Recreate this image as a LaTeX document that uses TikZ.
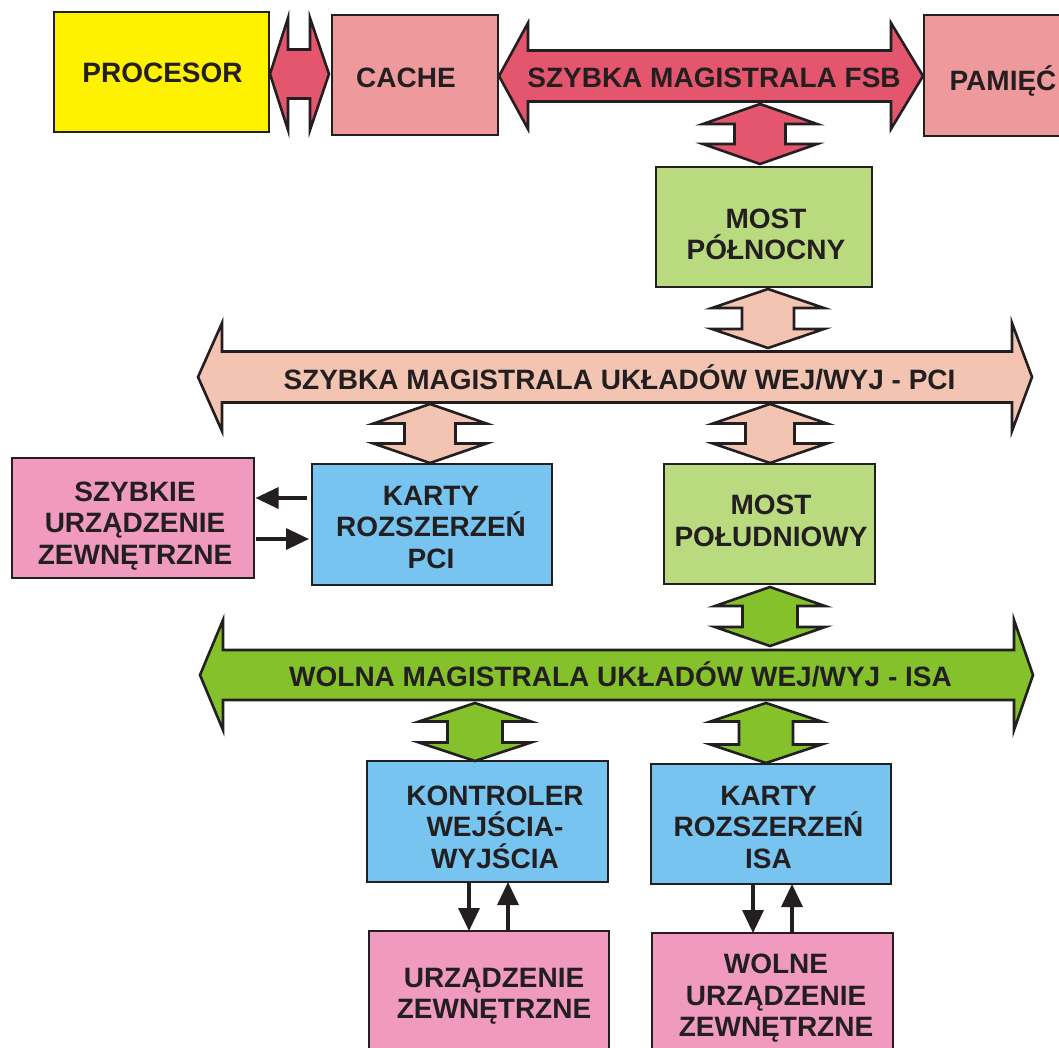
\documentclass[tikz,border=0pt]{standalone}
\usepackage{fontspec}
\setmainfont{Liberation Sans}
\usetikzlibrary{arrows.meta}
\definecolor{ink}{HTML}{231F20}
\definecolor{cproc}{HTML}{FFF200}
\definecolor{ccache}{HTML}{EE9A9D}
\definecolor{cfsb}{HTML}{E4566D}
\definecolor{cmost}{HTML}{BADA7F}
\definecolor{cpci}{HTML}{F4C4B2}
\definecolor{cblue}{HTML}{76C4EF}
\definecolor{cpink}{HTML}{F09ABF}
\definecolor{cisa}{HTML}{84C12A}
\newcommand\ml[1]{\vtop{\baselineskip=31.5pt\lineskiplimit=-100pt\lineskip=0pt\halign{\hfil##\hfil\cr#1\crcr}}}
% horizontal double block arrow: xl xr yc barbL barbR headhalf shafthalf colour
\newcommand\hbus[8]{%
  \filldraw[bus, fill=#8] (#1,#3) -- (#4,#3-#6) -- (#4,#3-#7) -- (#5,#3-#7) -- (#5,#3-#6) -- (#2,#3)
    -- (#5,#3+#6) -- (#5,#3+#7) -- (#4,#3+#7) -- (#4,#3+#6) -- cycle;}
% vertical double block arrow: x ytop ybot headlen headhalf shafthalf colour
\newcommand\vbus[7]{%
  \filldraw[bus, fill=#7] (#1,#2) -- (#1+#5,#2+#4) -- (#1+#6,#2+#4) -- (#1+#6,#3-#4) -- (#1+#5,#3-#4) -- (#1,#3)
    -- (#1-#5,#3-#4) -- (#1-#6,#3-#4) -- (#1-#6,#2+#4) -- (#1-#5,#2+#4) -- cycle;}
\tikzset{
  box/.style={draw=ink, line width=2.6pt, inner sep=0pt, outer sep=0pt},
  bus/.style={draw=ink, line width=2.6pt, line join=miter},
  lbl/.style={font=\fontsize{28}{31.5}\selectfont\bfseries, text=ink, inner sep=0pt, anchor=base},
  conn/.style={draw=ink, line width=3.4pt, -{Triangle[length=23pt,width=21pt]}},
}
\begin{document}
\begin{tikzpicture}[x=1pt,y=-1pt]
\path[use as bounding box] (0,0) rectangle (1059,1047);
\clip (0,0) rectangle (1059,1047);
% boxes
\node[box, fill=cproc,  minimum width=215pt, minimum height=120pt] (proc) at (161.5,72) {};
\node[box, fill=ccache, minimum width=166pt, minimum height=120pt] (cache) at (415,75) {};
\node[box, fill=ccache, minimum width=160pt, minimum height=121pt] (pam) at (1004,75.5) {};
\node[box, fill=cmost,  minimum width=216pt, minimum height=120pt] (mpn) at (764,227) {};
\node[box, fill=cpink,  minimum width=242pt, minimum height=120pt] (szy) at (133,518) {};
\node[box, fill=cblue,  minimum width=240pt, minimum height=121pt] (kpci) at (432,524.5) {};
\node[box, fill=cmost,  minimum width=211pt, minimum height=120pt] (mpd) at (769.5,524) {};
\node[box, fill=cblue,  minimum width=241pt, minimum height=121pt] (kon) at (487.5,821.5) {};
\node[box, fill=cblue,  minimum width=240pt, minimum height=120pt] (kisa) at (771,824) {};
\node[box, fill=cpink,  minimum width=240pt, minimum height=122pt] (urz) at (489,992) {};
\node[box, fill=cpink,  minimum width=241pt, minimum height=124pt] (wol) at (772.5,995) {};
% buses
\hbus{270}{329}{74}{288}{310}{56}{24.5}{cfsb}
\hbus{499}{923}{76}{528}{891}{53}{25.5}{cfsb}
\hbus{198}{1032}{377}{222}{1012}{54}{25.5}{cpci}
\hbus{200}{1033}{675}{223}{1014}{55}{25}{cisa}
\vbus{760}{104}{164}{20}{57}{25.5}{cfsb}
\vbus{768}{289}{348}{19}{56}{26}{cpci}
\vbus{430}{404}{463}{19.5}{56.5}{25.5}{cpci}
\vbus{770}{404}{463}{19.5}{57}{24.5}{cpci}
\vbus{770}{587}{646}{19}{55}{27.5}{cisa}
\vbus{475}{703}{761}{18.5}{56}{27.5}{cisa}
\vbus{766}{703}{763}{18.5}{55.5}{27}{cisa}
% texts
\node[lbl] (tproc) at (162.5,82) {PROCESOR};
\node[lbl] (tcache) at (406,87) {CACHE};
\node[lbl] (tfsb) at (714,87) {SZYBKA MAGISTRALA FSB};
\node[lbl] (tpam) at (1003,90) {PAMIĘĆ};
\node[lbl] (tmpn) at (766,228) {\ml{MOST\cr PÓŁNOCNY}};
\node[lbl] (tpci) at (619.5,389) {SZYBKA MAGISTRALA UKŁADÓW WEJ/WYJ - PCI};
\node[lbl] (tszy) at (135,501) {\ml{SZYBKIE\cr URZĄDZENIE\cr ZEWNĘTRZNE}};
\node[lbl] (tkpci) at (431,505) {\ml{KARTY\cr ROZSZERZEŃ\cr PCI}};
\node[lbl] (tmpd) at (771,514.5) {\ml{MOST\cr POŁUDNIOWY}};
\node[lbl] (tisa) at (620.5,686) {WOLNA MAGISTRALA UKŁADÓW WEJ/WYJ - ISA};
\node[lbl] (tkon) at (495,805) {\ml{KONTROLER\cr WEJŚCIA-\cr WYJŚCIA}};
\node[lbl] (tkisa) at (768.5,805) {\ml{KARTY\cr ROZSZERZEŃ\cr ISA}};
\node[lbl] (turz) at (494,987) {\ml{URZĄDZENIE\cr ZEWNĘTRZNE}};
\node[lbl] (twol) at (776,973.5) {\ml{WOLNE\cr URZĄDZENIE\cr ZEWNĘTRZNE}};
% thin connectors
\coordinate (a1) at ([yshift=26.5pt]kpci.west);
\coordinate (a2) at ([yshift=-14.5pt]kpci.west);
\draw[conn, shorten <=5pt, shorten >=1.5pt] (a1) -- (a1 -| szy.east);
\draw[conn, shorten <=2pt, shorten >=3pt] (a2 -| szy.east) -- (a2);
\coordinate (b1) at ([xshift=-18.5pt]kon.south);
\coordinate (b2) at ([xshift=20.5pt]kon.south);
\draw[conn] (b1) -- (b1 |- urz.north);
\draw[conn] (b2 |- urz.north) -- (b2);
\coordinate (c1) at ([xshift=-18pt]kisa.south);
\coordinate (c2) at ([xshift=21pt]kisa.south);
\draw[conn] (c1) -- (c1 |- wol.north);
\draw[conn] (c2 |- wol.north) -- (c2);
\end{tikzpicture}
\end{document}
